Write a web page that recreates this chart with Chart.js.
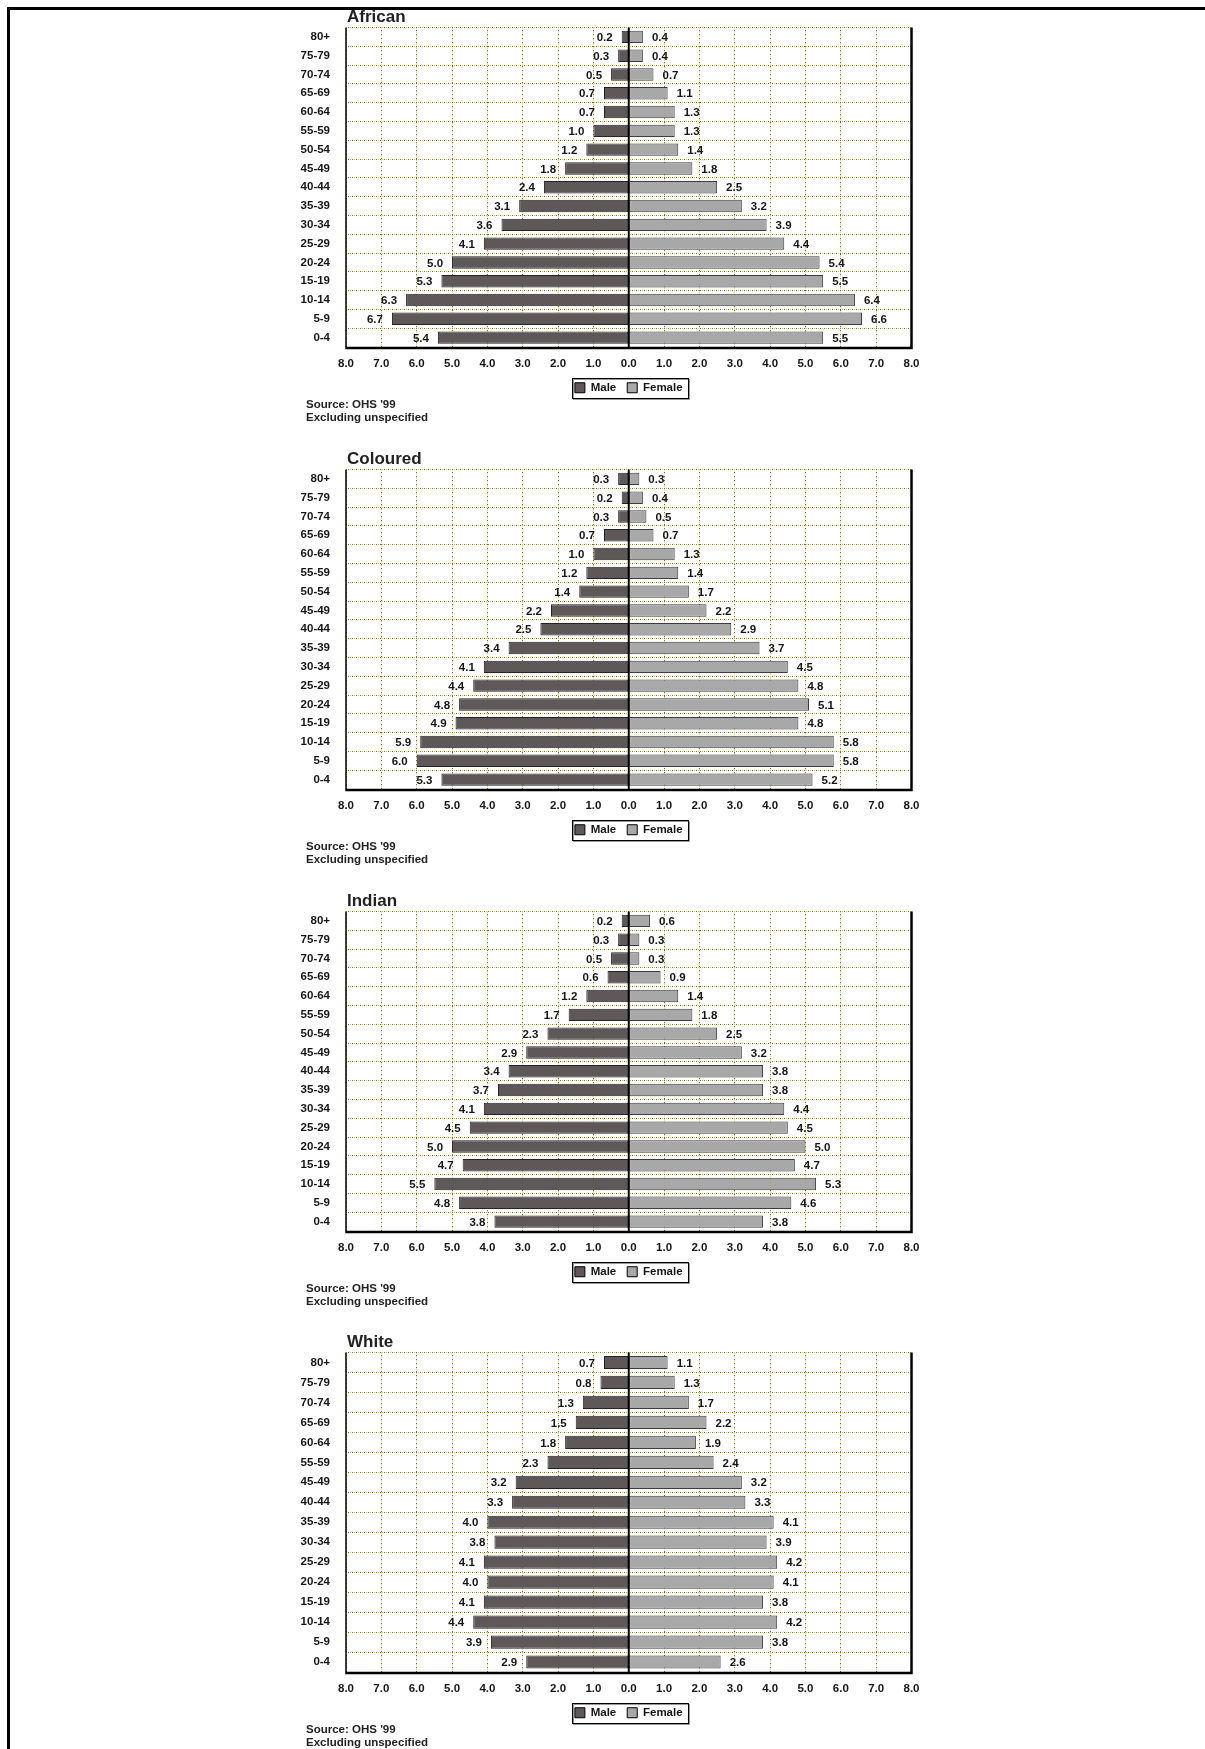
<!DOCTYPE html>
<html>
<head>
<meta charset="utf-8">
<script src="https://cdn.jsdelivr.net/npm/chart.js@4.4.0/dist/chart.umd.min.js"></script>
<style>
html,body{margin:0;padding:0;background:#fff;}
body{width:1205px;height:1749px;position:relative;overflow:hidden;font-family:'Liberation Sans Narrow','Liberation Sans',Arial,sans-serif;}
.frame{position:absolute;left:7px;top:7px;width:1198px;height:1742px;border-top:3px solid #000;border-left:3px solid #000;box-sizing:border-box;}
.block{position:absolute;left:0;width:1205px;height:442px;}
.block canvas{position:absolute;left:0;top:0;}
.title{position:absolute;left:347px;top:7px;font-weight:bold;font-size:17px;line-height:19px;color:#222;}
.src{position:absolute;left:306px;top:398px;font-weight:bold;font-size:11.5px;line-height:13.4px;color:#222;}
</style>
</head>
<body>
<div class="frame"></div>
<div id="root"></div>
<script>
// ---------- DATA ----------
const ageGroups = ['80+','75-79','70-74','65-69','60-64','55-59','50-54','45-49','40-44','35-39','30-34','25-29','20-24','15-19','10-14','5-9','0-4'];
const whiteAgeGroups = ['80+','75-79','70-74','65-69','60-64','55-59','45-49','40-44','35-39','30-34','25-29','20-24','15-19','10-14','5-9','0-4'];

const africanMale   = [0.2,0.3,0.5,0.7,0.7,1.0,1.2,1.8,2.4,3.1,3.6,4.1,5.0,5.3,6.3,6.7,5.4];
const africanFemale = [0.4,0.4,0.7,1.1,1.3,1.3,1.4,1.8,2.5,3.2,3.9,4.4,5.4,5.5,6.4,6.6,5.5];

const colouredMale   = [0.3,0.2,0.3,0.7,1.0,1.2,1.4,2.2,2.5,3.4,4.1,4.4,4.8,4.9,5.9,6.0,5.3];
const colouredFemale = [0.3,0.4,0.5,0.7,1.3,1.4,1.7,2.2,2.9,3.7,4.5,4.8,5.1,4.8,5.8,5.8,5.2];

const indianMale   = [0.2,0.3,0.5,0.6,1.2,1.7,2.3,2.9,3.4,3.7,4.1,4.5,5.0,4.7,5.5,4.8,3.8];
const indianFemale = [0.6,0.3,0.3,0.9,1.4,1.8,2.5,3.2,3.8,3.8,4.4,4.5,5.0,4.7,5.3,4.6,3.8];

const whiteMale   = [0.7,0.8,1.3,1.5,1.8,2.3,3.2,3.3,4.0,3.8,4.1,4.0,4.1,4.4,3.9,2.9];
const whiteFemale = [1.1,1.3,1.7,2.2,1.9,2.4,3.2,3.3,4.1,3.9,4.2,4.1,3.8,4.2,3.8,2.6];

const seriesNames = ['Male','Female'];
const xAxisMax = 8;
const sourceLines = ["Source: OHS '99", 'Excluding unspecified'];
const titles = ['African','Coloured','Indian','White'];

// ---------- STYLE / LAYOUT ----------
const FONT = "'Liberation Sans Narrow','Liberation Sans',Arial,sans-serif";
Chart.defaults.font.family = FONT;
const MALE_COLOR = '#5e5858';
const FEMALE_COLOR = '#a8a8a8';
const GRID_YELLOW = '#e0c800';
const GRID_GRAY = '#6a6a6a';

const blocks = [
  {title: titles[0], labels: ageGroups, male: africanMale, female: africanFemale, top: 0},
  {title: titles[1], labels: ageGroups, male: colouredMale, female: colouredFemale, top: 441.8},
  {title: titles[2], labels: ageGroups, male: indianMale, female: indianFemale, top: 883.6},
  {title: titles[3], labels: whiteAgeGroups, male: whiteMale, female: whiteFemale, top: 1325.4}
];

const valueLabels = {
  id: 'valueLabels',
  afterDatasetsDraw(chart) {
    const ctx = chart.ctx;
    ctx.save();
    ctx.font = 'bold 11.5px ' + FONT;
    ctx.fillStyle = '#151515';
    ctx.textBaseline = 'middle';
    chart.data.datasets.forEach((ds, di) => {
      const meta = chart.getDatasetMeta(di);
      meta.data.forEach((bar, i) => {
        const v = ds.data[i];
        const txt = Math.abs(v).toFixed(1);
        if (v < 0) { ctx.textAlign = 'right'; ctx.fillText(txt, bar.x - 9, bar.y + 1); }
        else { ctx.textAlign = 'left'; ctx.fillText(txt, bar.x + 9, bar.y + 1); }
      });
    });
    ctx.restore();
  }
};

const frameLines = {
  id: 'frameLines',
  afterDatasetsDraw(chart) {
    const ctx = chart.ctx, a = chart.chartArea;
    const x0 = chart.scales.x.getPixelForValue(0);
    ctx.save();
    ctx.strokeStyle = '#000';
    ctx.lineWidth = 2;
    ctx.beginPath(); ctx.moveTo(x0, a.top); ctx.lineTo(x0, a.bottom); ctx.stroke();
    ctx.lineWidth = 1.5;
    ctx.beginPath(); ctx.moveTo(a.left, a.top); ctx.lineTo(a.left, a.bottom); ctx.stroke();
    ctx.lineWidth = 2.5;
    ctx.beginPath(); ctx.moveTo(a.right, a.top); ctx.lineTo(a.right, a.bottom + 1); ctx.lineTo(a.left - 0.75, a.bottom + 1); ctx.stroke();
    ctx.restore();
  }
};

const legendFrame = {
  id: 'legendFrame',
  afterDraw(chart) {
    const boxes = chart.legend && chart.legend.legendHitBoxes;
    if (!boxes || !boxes.length) return;
    let l = Infinity, r = -Infinity, t = Infinity, b = -Infinity;
    boxes.forEach(h => { l = Math.min(l, h.left); r = Math.max(r, h.left + h.width); t = Math.min(t, h.top); b = Math.max(b, h.top + h.height); });
    const ctx = chart.ctx;
    ctx.save();
    ctx.strokeStyle = '#999';
    ctx.lineWidth = 1;
    ctx.strokeRect(Math.round(l - 3) + 1.5, Math.round(t - 4) + 1.5, Math.round(r - l + 8), Math.round(b - t + 8));
    ctx.strokeStyle = '#000';
    ctx.strokeRect(Math.round(l - 3) + 0.5, Math.round(t - 4) + 0.5, Math.round(r - l + 8), Math.round(b - t + 8));
    ctx.restore();
  }
};

const root = document.getElementById('root');
blocks.forEach((blk, k) => {
  const div = document.createElement('div');
  div.className = 'block';
  div.style.top = Math.round(blk.top) + 'px';
  const canvas = document.createElement('canvas');
  canvas.width = 1205; canvas.height = 442;
  canvas.style.width = '1205px'; canvas.style.height = '442px';
  div.appendChild(canvas);
  const t = document.createElement('div'); t.className = 'title'; t.textContent = blk.title; div.appendChild(t);
  const s = document.createElement('div'); s.className = 'src'; s.innerHTML = sourceLines.join('<br>'); div.appendChild(s);
  root.appendChild(div);

  const tickFont = {family: FONT, size: 11.5, weight: 'bold'};
  new Chart(canvas.getContext('2d'), {
    type: 'bar',
    data: {
      labels: blk.labels,
      datasets: [
        {label: seriesNames[0], data: blk.male.map(v => -v), backgroundColor: MALE_COLOR, borderColor: '#222', borderWidth: 1, borderSkipped: false, barPercentage: 0.66, categoryPercentage: 1},
        {label: seriesNames[1], data: blk.female.slice(), backgroundColor: FEMALE_COLOR, borderColor: '#3c3c3c', borderWidth: 1, borderSkipped: false, barPercentage: 0.66, categoryPercentage: 1}
      ]
    },
    options: {
      indexAxis: 'y',
      responsive: false,
      animation: false,
      devicePixelRatio: 1,
      layout: {padding: {left: 286, right: 293.5, top: 27.5, bottom: 38.5}},
      plugins: {
        tooltip: {enabled: false},
        legend: {
          display: true, position: 'bottom', fullSize: false,
          labels: {
            boxWidth: 10, boxHeight: 10, padding: 11, color: '#151515', font: tickFont,
            generateLabels(chart) {
              return chart.data.datasets.map((ds, i) => ({
                text: ds.label, fillStyle: ds.backgroundColor, strokeStyle: '#000', lineWidth: 1, hidden: false, datasetIndex: i, fontColor: '#151515'
              }));
            }
          }
        }
      },
      scales: {
        x: {
          type: 'linear', min: -xAxisMax, max: xAxisMax, stacked: true, position: 'bottom',
          ticks: {stepSize: 1, autoSkip: false, maxRotation: 0, padding: 10, color: '#151515', font: tickFont,
                  callback: v => Math.abs(v).toFixed(1)},
          grid: {color: GRID_YELLOW, lineWidth: 1, drawTicks: false},
          border: {display: false, dash: [1, 3]},
          afterFit: sc => { sc.height = 24; }
        },
        x2: {
          type: 'linear', min: -xAxisMax, max: xAxisMax, position: 'top',
          ticks: {display: false, stepSize: 1},
          grid: {color: GRID_GRAY, lineWidth: 1, drawTicks: false},
          border: {display: false, dash: [1, 3], dashOffset: 2},
          afterFit: sc => { sc.height = 0; }
        },
        y: {
          type: 'category', stacked: true, offset: true,
          ticks: {padding: 16, color: '#151515', font: tickFont, autoSkip: false},
          grid: {offset: true, color: GRID_YELLOW, lineWidth: 1, drawTicks: false},
          border: {display: false, dash: [1, 3]},
          afterFit: sc => { sc.width = 60; }
        },
        y2: {
          type: 'category', position: 'right', offset: true,
          ticks: {display: false},
          grid: {offset: true, color: GRID_GRAY, lineWidth: 1, drawTicks: false},
          border: {display: false, dash: [1, 3], dashOffset: 2},
          afterFit: sc => { sc.width = 0; }
        }
      }
    },
    plugins: [frameLines, valueLabels, legendFrame]
  });
});
</script>
</body>
</html>
